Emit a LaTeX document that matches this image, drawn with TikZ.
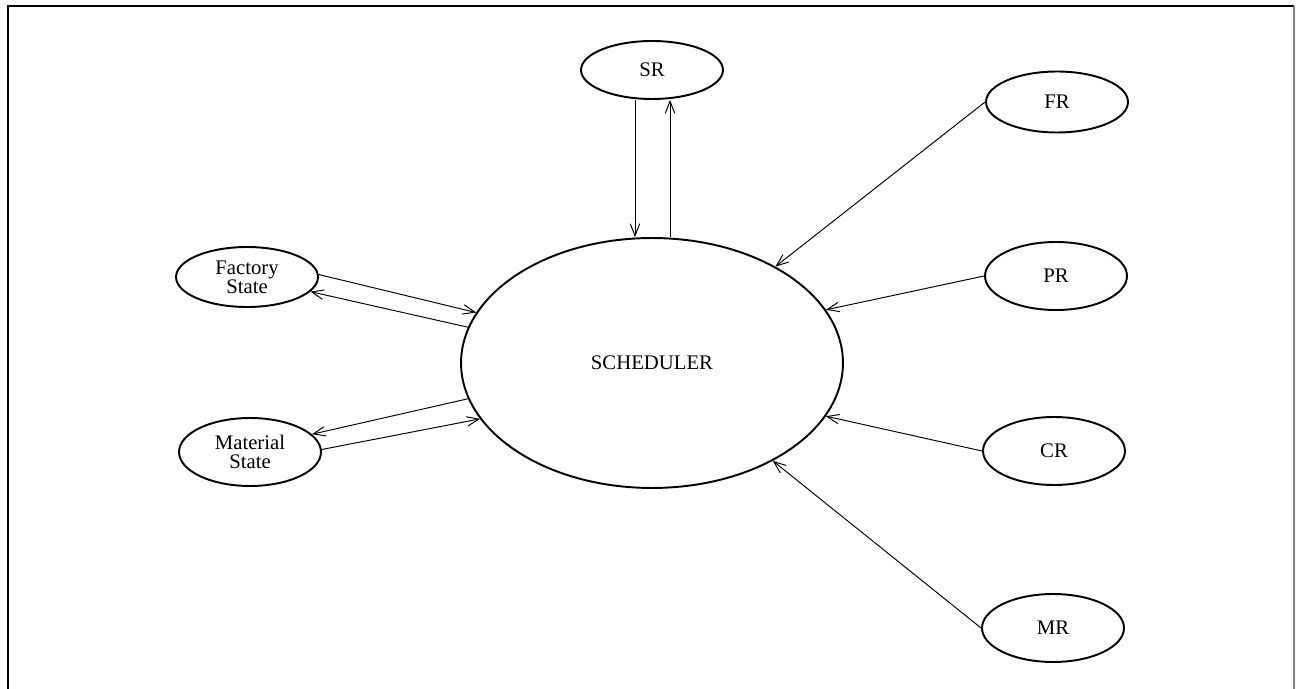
\documentclass[tikz,border=0pt]{standalone}
\usepackage{fontspec}
\setmainfont{Liberation Serif}
\usetikzlibrary{arrows.meta, shapes.geometric}
\usetikzlibrary{positioning}

\begin{document}
\begin{tikzpicture}[x=0.02cm, y=-0.02cm, every node/.style={font=\fontsize{11.8}{11}\selectfont},
		bubble/.style={draw, ellipse, line width=1.1pt, minimum width=2.84cm, minimum height=1.36cm, inner sep=1pt, align=center},
		flow/.style={-{Straight Barb[length=2.4mm, width=1.9mm]}, line width=0.55pt}]
		\useasboundingbox (0,0) rectangle (1297,689);
		% frame
		\draw[line width=1.3pt] (8,700) -- (8,6) -- (1294,6);
		\draw[line width=0.6pt, gray] (1294,6) -- (1294,700);

		% scheduler and its sources
		\node[bubble, minimum width=7.64cm, minimum height=5cm] (sch) at (652,363) {SCHEDULER};
		\node[bubble, minimum height=1.16cm] (sr) at (652,70) {SR};
		\node[bubble, minimum height=1.22cm] (fr) at (1057,102) {FR};
		\node[bubble] (pr) at (1056,276) {PR};
		\node[bubble] (cr) at (1054,451) {CR};
		\node[bubble] (mr) at (1053,628) {MR};
		\node[bubble, minimum height=1.2cm] (fs) at (247,277) {Factory\\State};
		\node[bubble] (ms) at (250,452) {Material\\State};

		% two-way links
		\draw[flow] ([xshift=-0.34cm]sr.south) -- ([xshift=-0.34cm]sch.north);
		\draw[flow] ([xshift=0.36cm]sch.north) -- ([xshift=0.36cm]sr.south);
		\draw[flow] (fs.2) -- (sch.164);
		\draw[flow] (sch.169) -- (fs.-13);
		\draw[flow] (sch.191) -- (ms.16);
		\draw[flow] (ms.2) -- (sch.198);

		% requests
		\draw[flow] (fr.west) -- (sch.38);
		\draw[flow] (pr.west) -- (sch.17);
		\draw[flow] (cr.west) -- (sch.-17);
		\draw[flow] (mr.west) -- (sch.-39);
	\end{tikzpicture}
\end{document}
